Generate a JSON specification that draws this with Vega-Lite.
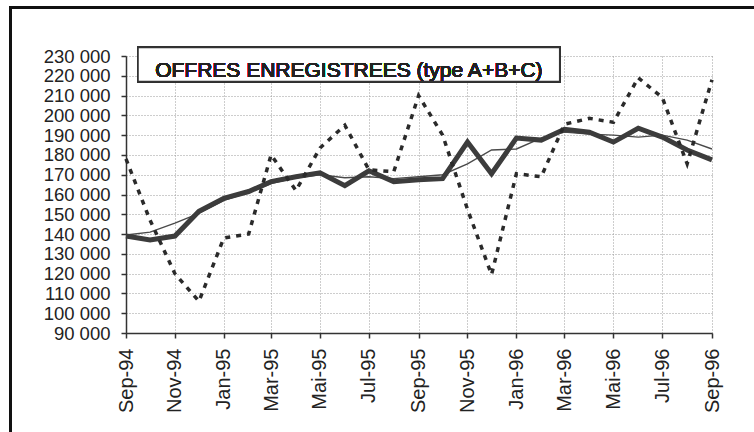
{
  "$schema": "https://vega.github.io/schema/vega-lite/v6.json",
  "autosize": {"type": "none"},
  "width": 586,
  "height": 277,
  "padding": {"left": 126, "top": 56, "right": 42, "bottom": 99},
  "background": "#ffffff",
  "config": {
    "view": {"stroke": null},
    "font": "Liberation Sans",
    "axis": {
      "title": null,
      "labelFontSize": 20,
      "labelColor": "#222222",
      "labelOverlap": false,
      "labelFlush": false,
      "tickSize": 5,
      "tickColor": "#333333",
      "tickWidth": 1.5,
      "domainColor": "#333333",
      "domainWidth": 1.5,
      "grid": true,
      "gridColor": "#9a9a9a",
      "gridDash": [1, 2],
      "gridWidth": 1
    },
    "axisY": {
      "tickCount": 15,
      "labelFontSize": 18.5,
      "labelPadding": 11,
      "labelExpr": "replace(format(datum.value, ','), ',', ' ')"
    },
    "axisX": {
      "labelAngle": 270,
      "labelAlign": "right",
      "labelBaseline": "middle",
      "labelPadding": 10
    }
  },
  "data": {
    "values": [
      {"month": "1994-09-01", "raw": 178000, "smooth": 139000, "trend": 139500},
      {"month": "1994-10-01", "raw": 147000, "smooth": 137000, "trend": 141000},
      {"month": "1994-11-01", "raw": 120000, "smooth": 139000, "trend": 145500},
      {"month": "1994-12-01", "raw": 106000, "smooth": 151500, "trend": 150500},
      {"month": "1995-01-01", "raw": 138000, "smooth": 158000, "trend": 157000},
      {"month": "1995-02-01", "raw": 140000, "smooth": 161500, "trend": 161000},
      {"month": "1995-03-01", "raw": 180000, "smooth": 166500, "trend": 165500},
      {"month": "1995-04-01", "raw": 162000, "smooth": 169000, "trend": 168500},
      {"month": "1995-05-01", "raw": 183500, "smooth": 171000, "trend": 170000},
      {"month": "1995-06-01", "raw": 195000, "smooth": 164500, "trend": 168500},
      {"month": "1995-07-01", "raw": 172500, "smooth": 172000, "trend": 169000},
      {"month": "1995-08-01", "raw": 171500, "smooth": 166500, "trend": 168000},
      {"month": "1995-09-01", "raw": 210000, "smooth": 167500, "trend": 169000},
      {"month": "1995-10-01", "raw": 190000, "smooth": 168000, "trend": 170000},
      {"month": "1995-11-01", "raw": 152500, "smooth": 186500, "trend": 175500},
      {"month": "1995-12-01", "raw": 119500, "smooth": 170500, "trend": 182500},
      {"month": "1996-01-01", "raw": 170500, "smooth": 188500, "trend": 183000},
      {"month": "1996-02-01", "raw": 169000, "smooth": 187500, "trend": 188500},
      {"month": "1996-03-01", "raw": 195500, "smooth": 193000, "trend": 191500},
      {"month": "1996-04-01", "raw": 198500, "smooth": 191500, "trend": 190500},
      {"month": "1996-05-01", "raw": 196500, "smooth": 186500, "trend": 190000},
      {"month": "1996-06-01", "raw": 219000, "smooth": 193500, "trend": 189000},
      {"month": "1996-07-01", "raw": 209000, "smooth": 189000, "trend": 190000},
      {"month": "1996-08-01", "raw": 175500, "smooth": 182500, "trend": 187500},
      {"month": "1996-09-01", "raw": 218000, "smooth": 177500, "trend": 183000}
    ]
  },
  "layer": [
    {
      "mark": {"type": "line", "stroke": "#4a4a4a", "strokeWidth": 1.4},
      "encoding": {
        "x": {
          "field": "month", "type": "temporal",
          "scale": {"type": "utc", "domain": [{"year": 1994, "month": 9, "date": 1, "utc": true}, {"year": 1996, "month": 9, "date": 1, "utc": true}], "nice": false},
          "axis": {
            "title": null,
            "values": [
              {"year": 1994, "month": 9, "date": 1, "utc": true}, {"year": 1994, "month": 10, "date": 1, "utc": true}, {"year": 1994, "month": 11, "date": 1, "utc": true}, {"year": 1994, "month": 12, "date": 1, "utc": true},
              {"year": 1995, "month": 1, "date": 1, "utc": true}, {"year": 1995, "month": 2, "date": 1, "utc": true}, {"year": 1995, "month": 3, "date": 1, "utc": true}, {"year": 1995, "month": 4, "date": 1, "utc": true},
              {"year": 1995, "month": 5, "date": 1, "utc": true}, {"year": 1995, "month": 6, "date": 1, "utc": true}, {"year": 1995, "month": 7, "date": 1, "utc": true}, {"year": 1995, "month": 8, "date": 1, "utc": true},
              {"year": 1995, "month": 9, "date": 1, "utc": true}, {"year": 1995, "month": 10, "date": 1, "utc": true}, {"year": 1995, "month": 11, "date": 1, "utc": true}, {"year": 1995, "month": 12, "date": 1, "utc": true},
              {"year": 1996, "month": 1, "date": 1, "utc": true}, {"year": 1996, "month": 2, "date": 1, "utc": true}, {"year": 1996, "month": 3, "date": 1, "utc": true}, {"year": 1996, "month": 4, "date": 1, "utc": true},
              {"year": 1996, "month": 5, "date": 1, "utc": true}, {"year": 1996, "month": 6, "date": 1, "utc": true}, {"year": 1996, "month": 7, "date": 1, "utc": true}, {"year": 1996, "month": 8, "date": 1, "utc": true},
              {"year": 1996, "month": 9, "date": 1, "utc": true}
            ],
            "labelExpr": "utcmonth(datum.value) % 2 == 0 ? replace(utcFormat(datum.value, '%b-%y'), 'May', 'Mai') : ''"
          }
        },
        "y": {
          "field": "trend", "type": "quantitative",
          "scale": {"domain": [90000, 230000], "nice": false, "zero": false},
          "axis": {
            "title": null,
            "tickCount": 15,
            "labelExpr": "replace(format(datum.value, ','), ',', ' ')"
          }
        }
      }
    },
    {
      "mark": {"type": "rect", "fill": null, "fillOpacity": 0, "stroke": "#111111", "strokeWidth": 2},
      "encoding": {
        "x": {"datum": {"year": 1994, "month": 4, "date": 10, "utc": true}, "type": "temporal", "axis": {"title": null}},
        "x2": {"datum": {"year": 1997, "month": 6, "date": 1, "utc": true}},
        "y": {"datum": 254500, "type": "quantitative", "axis": {"title": null}},
        "y2": {"datum": 20000}
      }
    },
    {
      "mark": {"type": "line", "stroke": "#3c3c3c", "strokeWidth": 5, "strokeJoin": "miter"},
      "encoding": {
        "x": {"field": "month", "type": "temporal", "axis": {"title": null}},
        "y": {"field": "smooth", "type": "quantitative", "axis": {"title": null}}
      }
    },
    {
      "mark": {"type": "line", "stroke": "#2a2a2a", "strokeWidth": 3.5, "strokeDash": [5, 6]},
      "encoding": {
        "x": {"field": "month", "type": "temporal", "axis": {"title": null}},
        "y": {"field": "raw", "type": "quantitative", "axis": {"title": null}}
      }
    },
    {
      "mark": {"type": "rect", "fill": "#ffffff", "stroke": "#333333", "strokeWidth": 1.5},
      "encoding": {
        "x": {"datum": {"year": 1994, "month": 9, "date": 16, "utc": true}, "type": "temporal", "axis": {"title": null}},
        "x2": {"datum": {"year": 1996, "month": 2, "date": 24, "utc": true}},
        "y": {"datum": 234300, "type": "quantitative", "axis": {"title": null}},
        "y2": {"datum": 217100}
      }
    },
    {
      "mark": {"type": "text", "text": "OFFRES ENREGISTREES (type A+B+C)", "fontSize": 21, "fontWeight": "normal", "color": "#222222", "align": "center", "baseline": "alphabetic"},
      "encoding": {
        "x": {"datum": {"year": 1995, "month": 6, "date": 6, "utc": true}, "type": "temporal", "axis": {"title": null}},
        "y": {"datum": 219500, "type": "quantitative", "axis": {"title": null}}
      }
    }
  ]
}
